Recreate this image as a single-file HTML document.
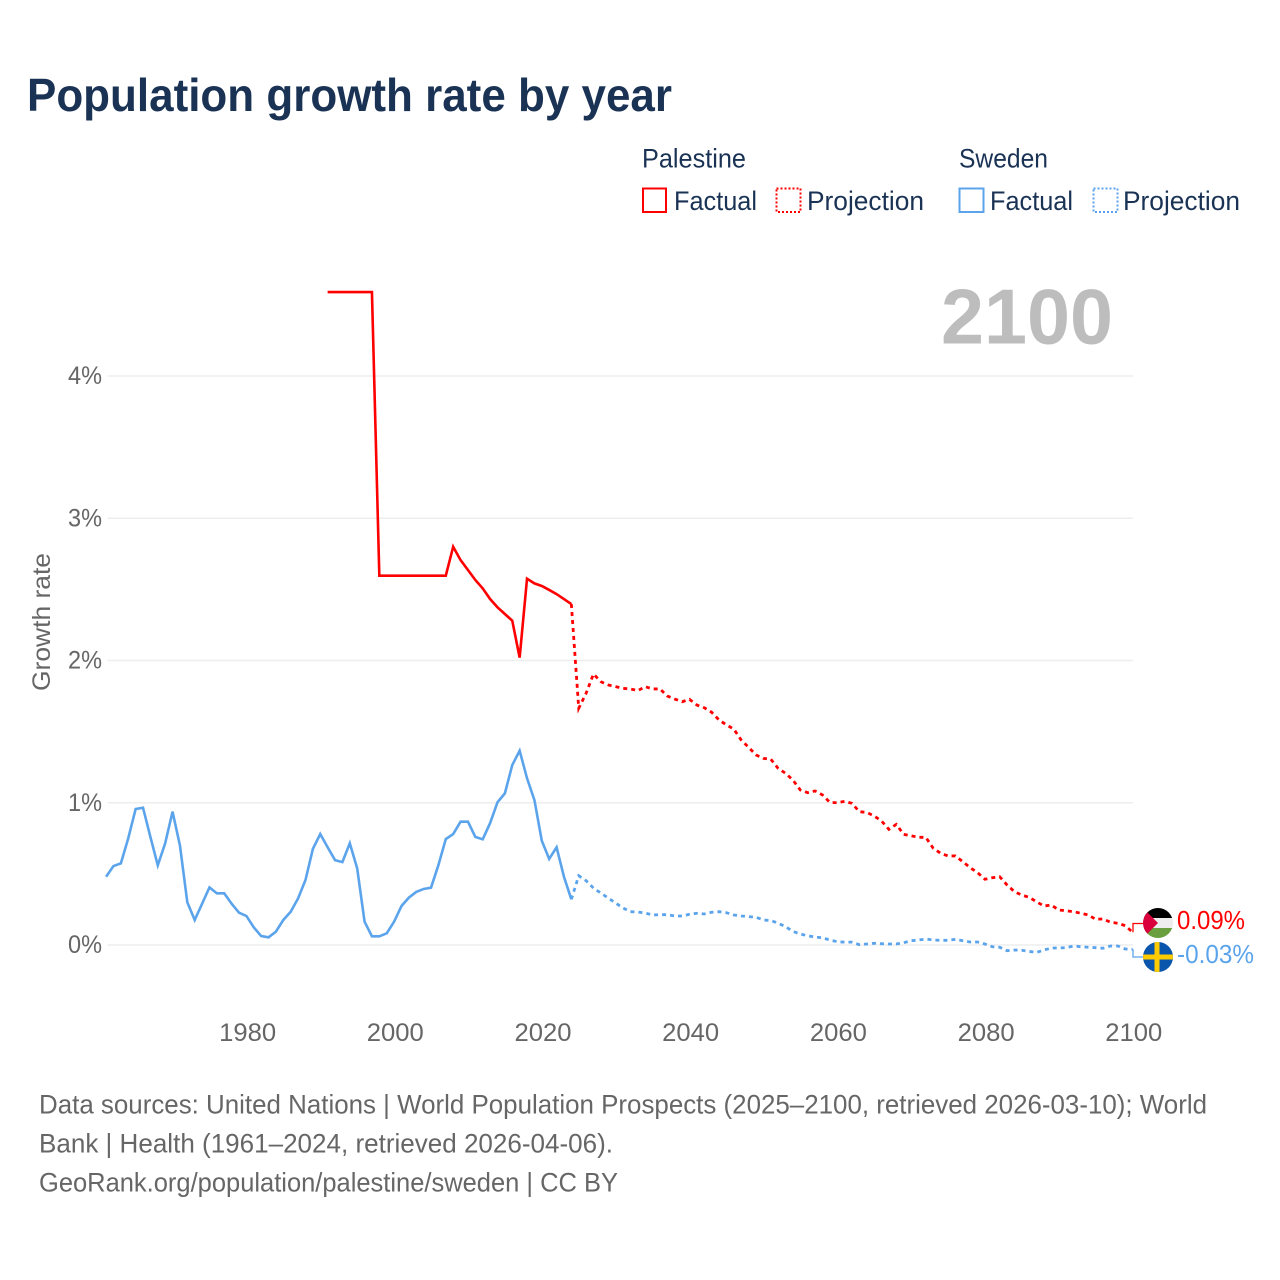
<!DOCTYPE html>
<html lang="en">
<head>
<meta charset="utf-8">
<title>Population growth rate by year</title>
<style>
  html, body { margin: 0; padding: 0; background: #fff; }
  svg { display: block; font-family: "Liberation Sans", sans-serif; }
</style>
</head>
<body>
<svg id="chart" xmlns="http://www.w3.org/2000/svg" width="1280" height="1280" viewBox="0 0 1280 1280">
  <defs>
    <clipPath id="clip-pal"><circle cx="1158" cy="923" r="15"/></clipPath>
    <clipPath id="clip-swe"><circle cx="1158" cy="957" r="15"/></clipPath>
  </defs>
  <rect x="0" y="0" width="1280" height="1280" fill="#fff"/>
  <text x="27" y="111" font-size="46" font-weight="700" fill="#1a3355" textLength="645" lengthAdjust="spacingAndGlyphs">Population growth rate by year</text>

  <g font-size="27" fill="#1a3355">
    <text x="642" y="167.500" textLength="104" lengthAdjust="spacingAndGlyphs">Palestine</text>
    <rect x="643" y="188.500" width="23" height="23.500" fill="none" stroke="#ff0000" stroke-width="2"/>
    <text x="674" y="210" textLength="83" lengthAdjust="spacingAndGlyphs">Factual</text>
    <rect x="776.500" y="188.500" width="24" height="23.500" fill="none" stroke="#ff0000" stroke-width="2" stroke-dasharray="2 2"/>
    <text x="807" y="210" textLength="117" lengthAdjust="spacingAndGlyphs">Projection</text>
    <text x="959" y="167.500" textLength="89" lengthAdjust="spacingAndGlyphs">Sweden</text>
    <rect x="959.500" y="188.500" width="24" height="23.500" fill="none" stroke="#5ba4ec" stroke-width="2"/>
    <text x="990" y="210" textLength="83" lengthAdjust="spacingAndGlyphs">Factual</text>
    <rect x="1093.500" y="188.500" width="24" height="23.500" fill="none" stroke="#5ba4ec" stroke-width="2" stroke-dasharray="2 2"/>
    <text x="1123" y="210" textLength="117" lengthAdjust="spacingAndGlyphs">Projection</text>
  </g>

  <g id="grid"></g>
  <g id="y-ticks" font-size="25" fill="#666" text-anchor="end"></g>
  <g id="x-ticks" font-size="25" fill="#666" text-anchor="middle"></g>
  <text transform="translate(50,622) rotate(-90)" font-size="25" fill="#666" text-anchor="middle" textLength="138" lengthAdjust="spacingAndGlyphs">Growth rate</text>
  <text x="1113" y="343.500" font-size="78" font-weight="700" fill="#bdbdbd" text-anchor="end" textLength="172" lengthAdjust="spacingAndGlyphs">2100</text>

  <g id="series"></g>

  <g clip-path="url(#clip-pal)">
    <rect x="1143" y="908" width="30" height="10" fill="#000"/>
    <rect x="1143" y="918" width="30" height="10" fill="#eeeeee"/>
    <rect x="1143" y="928" width="30" height="10" fill="#6a9f3f"/>
    <polygon points="1143,908 1158,923 1143,938" fill="#d9003c"/>
  </g>
  <g clip-path="url(#clip-swe)">
    <rect x="1143" y="942" width="30" height="30" fill="#0a56ad"/>
    <rect x="1143" y="954.500" width="30" height="5" fill="#fecb00"/>
    <rect x="1154.500" y="942" width="5" height="30" fill="#fecb00"/>
  </g>
  <text x="1177" y="929" font-size="26" fill="#ff0000" textLength="68" lengthAdjust="spacingAndGlyphs">0.09%</text>
  <text x="1177" y="963" font-size="26" fill="#5ba4ec" textLength="77" lengthAdjust="spacingAndGlyphs">-0.03%</text>

  <g font-size="27" fill="#666">
    <text x="39" y="1113.500" textLength="1168" lengthAdjust="spacingAndGlyphs">Data sources: United Nations | World Population Prospects (2025–2100, retrieved 2026-03-10); World</text>
    <text x="39" y="1152.500" textLength="574" lengthAdjust="spacingAndGlyphs">Bank | Health (1961–2024, retrieved 2026-04-06).</text>
    <text x="39" y="1191.500" textLength="579" lengthAdjust="spacingAndGlyphs">GeoRank.org/population/palestine/sweden | CC BY</text>
  </g>
</svg>
<script>
const xTickYears = [1980, 2000, 2020, 2040, 2060, 2080, 2100];
const yTickValues = [0, 1, 2, 3, 4];
const yTickLabels = ['0%', '1%', '2%', '3%', '4%'];

const palestineFactualStart = 1991;
const palestineFactual = [4.59,4.59,4.59,4.59,4.59,4.59,4.59,2.596,2.596,2.596,2.596,2.596,2.596,2.596,2.596,2.596,2.596,2.80,2.706,2.636,2.566,2.507,2.432,2.374,2.327,2.28,2.02,2.575,2.542,2.524,2.496,2.467,2.432,2.397];
const palestineProjectionStart = 2025;
const palestineProjection = [1.664,1.77,1.905,1.851,1.828,1.816,1.804,1.80,1.788,1.816,1.80,1.80,1.75,1.729,1.71,1.727,1.687,1.668,1.636,1.582,1.547,1.518,1.441,1.39,1.336,1.312,1.307,1.242,1.207,1.16,1.09,1.071,1.083,1.055,1.003,1.0,1.01,.996,.937,.932,.907,.872,.813,.848,.778,.768,.757,.757,.68,.645,.626,.626,.586,.544,.509,.462,.473,.48,.422,.375,.351,.335,.304,.274,.281,.246,.241,.234,.223,.211,.181,.183,.16,.153,.136,.09];

const swedenFactualStart = 1961;
const swedenFactual = [.48,.555,.574,.75,.956,.965,.76,.56,.715,.937,.70,.30,.176,.29,.405,.363,.363,.29,.227,.204,.124,.063,.054,.094,.176,.234,.328,.457,.675,.78,.687,.597,.583,.715,.539,.164,.061,.061,.082,.164,.274,.333,.373,.394,.403,.562,.745,.78,.867,.867,.76,.743,.857,1.003,1.066,1.265,1.366,1.172,1.019,.733,.605,.687,.48,.321];
const swedenProjectionStart = 2025;
const swedenProjection = [.487,.452,.40,.365,.33,.295,.26,.234,.232,.225,.211,.213,.213,.204,.204,.216,.223,.218,.23,.234,.227,.211,.204,.2,.195,.176,.172,.153,.129,.096,.077,.065,.056,.051,.035,.023,.02,.02,.002,.007,.012,.009,.007,.007,.016,.03,.035,.042,.035,.033,.033,.04,.03,.021,.021,.007,-.012,-.016,-.04,-.035,-.037,-.045,-.052,-.035,-.021,-.021,-.019,-.007,-.012,-.016,-.019,-.023,-.007,-.007,-.028,-.03];

const SVG_NS = 'http://www.w3.org/2000/svg';
const PLOT_LEFT = 107.5;
const PLOT_RIGHT = 1133;
const RED = '#ff0000';
const BLUE = '#5ba4ec';

function xScale(year) {
  return 246.4 + (year - 1980) * (1132.6 - 246.4) / 120;
}
function yScale(value) {
  return 945 - value * 142.25;
}
function svgEl(tag) {
  return document.createElementNS(SVG_NS, tag);
}
function toPoints(startYear, values) {
  return values.map(function (v, i) {
    return xScale(startYear + i).toFixed(2) + ',' + yScale(v).toFixed(2);
  });
}
function drawLine(name, points, color, dash, width) {
  const line = svgEl('polyline');
  
  
  line.setAttribute('points', points.join(' '));
  line.setAttribute('fill', 'none');
  line.setAttribute('stroke', color);
  line.setAttribute('stroke-width', width);
  line.setAttribute('stroke-linejoin', 'miter');
  if (dash) line.setAttribute('stroke-dasharray', dash);
  document.getElementById('series').appendChild(line);
}

yTickValues.forEach(function (v, i) {
  const grid = svgEl('line');
  
  
  grid.setAttribute('x1', PLOT_LEFT);
  grid.setAttribute('x2', PLOT_RIGHT);
  grid.setAttribute('y1', yScale(v));
  grid.setAttribute('y2', yScale(v));
  grid.setAttribute('stroke', '#eeeeee');
  grid.setAttribute('stroke-width', '1.500');
  document.getElementById('grid').appendChild(grid);

  const label = svgEl('text');
  
  
  label.setAttribute('x', 102);
  label.setAttribute('y', yScale(v) + 8);
  label.setAttribute('textLength', 34);
  label.setAttribute('lengthAdjust', 'spacingAndGlyphs');
  label.textContent = yTickLabels[i];
  document.getElementById('y-ticks').appendChild(label);
});

xTickYears.forEach(function (year) {
  const label = svgEl('text');
  
  
  label.setAttribute('x', xScale(year) + 1.200);
  label.setAttribute('y', 1041);
  label.setAttribute('textLength', 57);
  label.setAttribute('lengthAdjust', 'spacingAndGlyphs');
  label.textContent = year;
  document.getElementById('x-ticks').appendChild(label);
});

const palF = toPoints(palestineFactualStart, palestineFactual);
const palP = toPoints(palestineProjectionStart, palestineProjection);
const sweF = toPoints(swedenFactualStart, swedenFactual);
const sweP = toPoints(swedenProjectionStart, swedenProjection);

drawLine('line-sweden-factual', sweF, BLUE, null, 2.600);
drawLine('line-sweden-projection', [sweF[sweF.length - 1]].concat(sweP), BLUE, '4 4', 2.800);
drawLine('line-palestine-factual', palF, RED, null, 2.600);
drawLine('line-palestine-projection', [palF[palF.length - 1]].concat(palP), RED, '4 4', 2.800);

const palEndY = yScale(palestineProjection[palestineProjection.length - 1]);
const sweEndY = yScale(swedenProjection[swedenProjection.length - 1]);
drawLine('connector-palestine', [PLOT_RIGHT + ',' + palEndY, PLOT_RIGHT + ',923.500', '1143,923.500'], RED, null, 1.300);
drawLine('connector-sweden', [PLOT_RIGHT + ',' + sweEndY, PLOT_RIGHT + ',957', '1143,957'], BLUE, null, 1.300);
</script>
</body>
</html>
